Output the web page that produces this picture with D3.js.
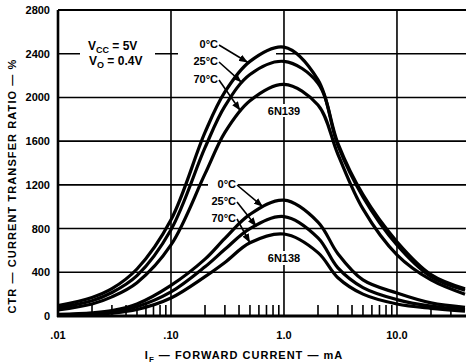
<!DOCTYPE html>
<html>
<head>
<meta charset="utf-8">
<title>CTR vs forward current</title>
<script src="https://cdn.jsdelivr.net/npm/d3@7"></script>
<style>
  body { margin: 0; background: #fff; }
  text { font-family: "Liberation Sans", Arial, sans-serif; font-weight: bold; fill: #000; }
</style>
</head>
<body>
<script>
// forward current (mA) sample points shared by all curves
var currents = [0.01, 0.02, 0.03, 0.05, 0.1, 0.2, 0.3, 0.5, 1, 2, 3, 5, 10, 20, 40];

// 6N139, CTR in %
var n139_0C  = [95, 170, 250, 430, 880, 1680, 2050, 2330, 2460, 2160, 1580, 1110, 680, 380, 250];
var n139_25C = [75, 140, 215, 370, 790, 1540, 1920, 2210, 2330, 2130, 1560, 1090, 650, 360, 235];
var n139_70C = [55, 110, 175, 305, 650, 1300, 1680, 1970, 2120, 1930, 1480, 980, 560, 330, 200];

// 6N138, CTR in %
var n138_0C  = [15, 30, 50, 110, 280, 520, 710, 930, 1060, 860, 570, 330, 210, 120, 80];
var n138_25C = [10, 22, 38, 85, 220, 450, 610, 800, 910, 715, 440, 260, 150, 90, 60];
var n138_70C = [6, 14, 26, 60, 165, 360, 490, 670, 750, 580, 350, 200, 110, 70, 45];

var yTicks = [0, 400, 800, 1200, 1600, 2000, 2400, 2800];
var xTicks = [0.01, 0.1, 1, 10];
var xTickLabels = [".01", ".10", "1.0", "10.0"];

var w = 466, h = 364;
var svg = d3.select("body").append("svg").attr("width", w).attr("height", h);

var x = d3.scaleLog().domain([0.01, 40]).range([58, 465]);
var y = d3.scaleLinear().domain([0, 2800]).range([316, 10]);

// minor ticks 2..9 in every decade along the bottom
var minor = [];
[0.01, 0.1, 1, 10].forEach(function(d) {
  for (var k = 2; k <= 9; k++) if (d * k < 40) minor.push(d * k);
});

// horizontal grid
svg.append("g").selectAll("line").data(yTicks.slice(1)).enter().append("line")
  .attr("x1", x(0.01)).attr("x2", w)
  .attr("y1", function(d) { return y(d); }).attr("y2", function(d) { return y(d); })
  .attr("stroke", "#000").attr("stroke-width", 1.6);

// vertical grid at decades
svg.append("g").selectAll("line").data(xTicks.slice(1)).enter().append("line")
  .attr("x1", function(d) { return x(d); }).attr("x2", function(d) { return x(d); })
  .attr("y1", y(2800)).attr("y2", y(0))
  .attr("stroke", "#000").attr("stroke-width", 1.6);

svg.append("g").selectAll("line").data(minor).enter().append("line")
  .attr("x1", function(d) { return x(d); }).attr("x2", function(d) { return x(d); })
  .attr("y1", y(0)).attr("y2", y(0) - 11)
  .attr("stroke", "#000").attr("stroke-width", 1.6);

// white patches behind annotations
function patch(x0, y0, ww, hh) {
  svg.append("rect").attr("x", x0).attr("y", y0).attr("width", ww).attr("height", hh).attr("fill", "#fff");
}
patch(80, 36, 75, 34);
patch(178, 36, 98, 22);
patch(178, 56, 42, 32);
patch(208, 176, 30, 50);
patch(266, 104, 36, 13);
patch(266, 251, 36, 14);

// frame
svg.append("line").attr("x1", x(0.01)).attr("x2", x(0.01)).attr("y1", y(2800)).attr("y2", y(0) + 1)
  .attr("stroke", "#000").attr("stroke-width", 2.6);
svg.append("line").attr("x1", x(0.01)).attr("x2", w).attr("y1", y(2800)).attr("y2", y(2800))
  .attr("stroke", "#000").attr("stroke-width", 2);
svg.append("line").attr("x1", x(0.01) - 1).attr("x2", w).attr("y1", y(0)).attr("y2", y(0))
  .attr("stroke", "#000").attr("stroke-width", 3);

// curves
var line = d3.line()
  .x(function(d) { return x(d[0]); })
  .y(function(d) { return y(d[1]); })
  .curve(d3.curveCatmullRom.alpha(0.5));

var series = [n139_0C, n139_25C, n139_70C, n138_0C, n138_25C, n138_70C];
svg.append("g").selectAll("path").data(series).enter().append("path")
  .attr("d", function(s) { return line(currents.map(function(c, i) { return [c, s[i]]; })); })
  .attr("fill", "none").attr("stroke", "#000").attr("stroke-width", 3.2);

// tick labels
svg.append("g").selectAll("text").data(yTicks).enter().append("text")
  .attr("x", 50).attr("y", function(d) { return y(d) + 4; })
  .attr("text-anchor", "end").attr("font-size", 11)
  .text(function(d) { return d; });

svg.append("g").selectAll("text").data(xTicks).enter().append("text")
  .attr("x", function(d) { return x(d); }).attr("y", 339)
  .attr("text-anchor", "middle").attr("font-size", 11)
  .text(function(d, i) { return xTickLabels[i]; });

// axis titles
var xt = svg.append("text").attr("x", 244).attr("y", 359).attr("text-anchor", "middle")
  .attr("font-size", 11).attr("letter-spacing", 1);
xt.append("tspan").text("I");
xt.append("tspan").attr("dy", 3).attr("font-size", 8).text("F");
xt.append("tspan").attr("dy", -3).text(" \u2014 FORWARD CURRENT \u2014 mA");

svg.append("text").attr("transform", "translate(16,186) rotate(-90)")
  .attr("text-anchor", "middle").attr("font-size", 11).attr("letter-spacing", 1.1)
  .text("CTR \u2014 CURRENT TRANSFER RATIO \u2014 %");

// conditions
var t1 = svg.append("text").attr("x", 88).attr("y", 50).attr("font-size", 12);
t1.append("tspan").text("V");
t1.append("tspan").attr("dy", 3).attr("font-size", 9).text("CC");
t1.append("tspan").attr("dy", -3).text(" = 5V");
var t2 = svg.append("text").attr("x", 89).attr("y", 65).attr("font-size", 12);
t2.append("tspan").text("V");
t2.append("tspan").attr("dy", 3).attr("font-size", 9).text("O");
t2.append("tspan").attr("dy", -3).text(" = 0.4V");

// temperature labels and arrows
svg.append("defs").append("marker").attr("id", "ah")
  .attr("markerUnits", "userSpaceOnUse").attr("markerWidth", 9).attr("markerHeight", 7)
  .attr("refX", 9).attr("refY", 3.5).attr("orient", "auto")
  .append("path").attr("d", "M0,0 L9,3.5 L0,7 Z").attr("fill", "#000");

var tempLabels = ["0\u00b0C", "25\u00b0C", "70\u00b0C"];
var labels139 = [[218, 48], [218, 65], [218, 83]];
var tips139 = [[0.48, 2320], [0.42, 2140], [0.41, 1880]];
var labels138 = [[236, 188], [236, 205], [236, 222]];
var tips138 = [[0.65, 1000], [0.57, 820], [0.5, 670]];

function tempGroup(pos, tips) {
  pos.forEach(function(p, i) {
    svg.append("text").attr("x", p[0]).attr("y", p[1]).attr("text-anchor", "end")
      .attr("font-size", 11).text(tempLabels[i]);
    svg.append("line").attr("x1", p[0] + 1).attr("y1", p[1] - 3)
      .attr("x2", x(tips[i][0])).attr("y2", y(tips[i][1]))
      .attr("stroke", "#000").attr("stroke-width", 1.6).attr("marker-end", "url(#ah)");
  });
}
tempGroup(labels139, tips139);
tempGroup(labels138, tips138);

svg.append("text").attr("x", x(1)).attr("y", 115).attr("text-anchor", "middle")
  .attr("font-size", 11).text("6N139");
svg.append("text").attr("x", x(1)).attr("y", 262).attr("text-anchor", "middle")
  .attr("font-size", 11).text("6N138");
</script>
</body>
</html>
